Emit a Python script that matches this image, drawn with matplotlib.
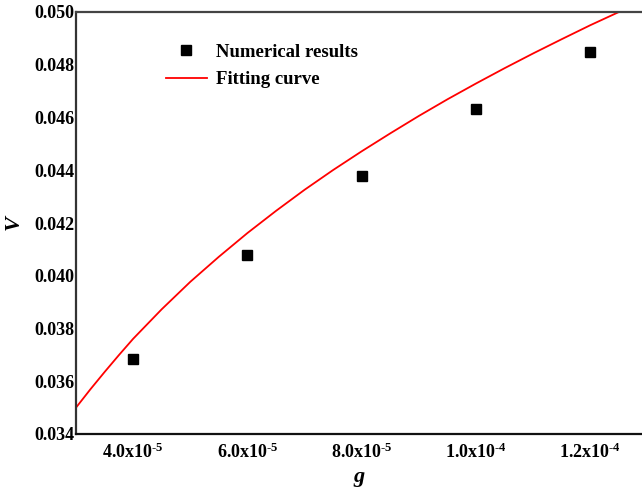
import matplotlib
matplotlib.use("Agg")
import matplotlib.pyplot as plt

plt.rcParams['font.family'] = ['Liberation Serif', 'DejaVu Serif']
plt.rcParams['font.weight'] = 'bold'
plt.rcParams['mathtext.fontset'] = 'custom'
plt.rcParams['mathtext.rm'] = 'Liberation Serif:bold'
plt.rcParams['mathtext.it'] = 'Liberation Serif:bold:italic'

# Numerical results
g_points = [4.0e-5, 6.0e-5, 8.0e-5, 1.0e-4, 1.2e-4]
V_points = [0.03685, 0.04077, 0.04380, 0.04632, 0.04848]

# Fitting curve
g_curve = [3.0e-5, 3.25e-5, 3.5e-5, 3.75e-5, 4.0e-5, 4.5e-5, 5.0e-5, 5.5e-5, 6.0e-5, 6.5e-5, 7.0e-5, 7.5e-5,
           8.0e-5, 8.5e-5, 9.0e-5, 9.5e-5, 1.0e-4, 1.05e-4, 1.1e-4, 1.15e-4, 1.2e-4, 1.25e-4]
V_curve = [0.03500, 0.03569, 0.03635, 0.03699, 0.03761, 0.03873, 0.03977, 0.04072, 0.04162, 0.04246,
           0.04326, 0.04401, 0.04472, 0.04540, 0.04606, 0.04669, 0.04729, 0.04787, 0.04843, 0.04897,
           0.04950, 0.05000]

xticks = [4.0e-5, 6.0e-5, 8.0e-5, 1.0e-4, 1.2e-4]
xtick_labels = ['4.0x10$^{\\mathregular{\u2010}5}$', '6.0x10$^{\\mathregular{\u2010}5}$', '8.0x10$^{\\mathregular{\u2010}5}$',
                '1.0x10$^{\\mathregular{\u2010}4}$', '1.2x10$^{\\mathregular{\u2010}4}$']
yticks = [0.034, 0.036, 0.038, 0.040, 0.042, 0.044, 0.046, 0.048, 0.050]
ytick_labels = ['0.034', '0.036', '0.038', '0.040', '0.042', '0.044', '0.046', '0.048', '0.050']

fig = plt.figure(figsize=(6.42, 4.92), dpi=100)
ax = fig.add_axes([76/642, 58/492, 1 - 76/642, (434-12)/492])

ax.plot(g_curve, V_curve, color='red', lw=1.3, label='Fitting curve', zorder=2)
ax.plot(g_points, V_points, linestyle='none', marker='s', color='black', markersize=7,
        label='Numerical results', zorder=3)

ax.set_xlim(3.0e-5, 1.2904e-4)
ax.set_ylim(0.034, 0.050)
ax.set_xticks(xticks)
ax.set_xticklabels(xtick_labels)
ax.set_yticks(yticks)
ax.set_yticklabels(ytick_labels)
ax.tick_params(axis='both', length=0, labelsize=13)
ax.tick_params(axis='y', pad=1)
ax.tick_params(axis='x', pad=6)
for t in ax.get_xticklabels() + ax.get_yticklabels():
    t.set_fontweight('bold')

for s in ['left', 'bottom', 'top']:
    ax.spines[s].set_linewidth(1.6)
ax.spines['left'].set_color('#333333')
ax.spines['bottom'].set_color('#111111')
ax.spines['top'].set_color('#444444')
ax.spines['right'].set_visible(False)

ax.set_xlabel('g', fontsize=16, fontstyle='italic', fontweight='bold', labelpad=4)
ax.set_ylabel('V', fontsize=16, fontstyle='italic', fontweight='bold', labelpad=8)

handles, labels = ax.get_legend_handles_labels()
leg = ax.legend(handles[::-1], labels[::-1], loc='upper left', bbox_to_anchor=(0.145, 0.943),
                frameon=False, prop={'family': 'Liberation Serif', 'weight': 'bold', 'size': 13.5},
                handlelength=2.2, handletextpad=0.5, labelspacing=0.55, borderaxespad=0)

fig.savefig('out.png', dpi=100)
